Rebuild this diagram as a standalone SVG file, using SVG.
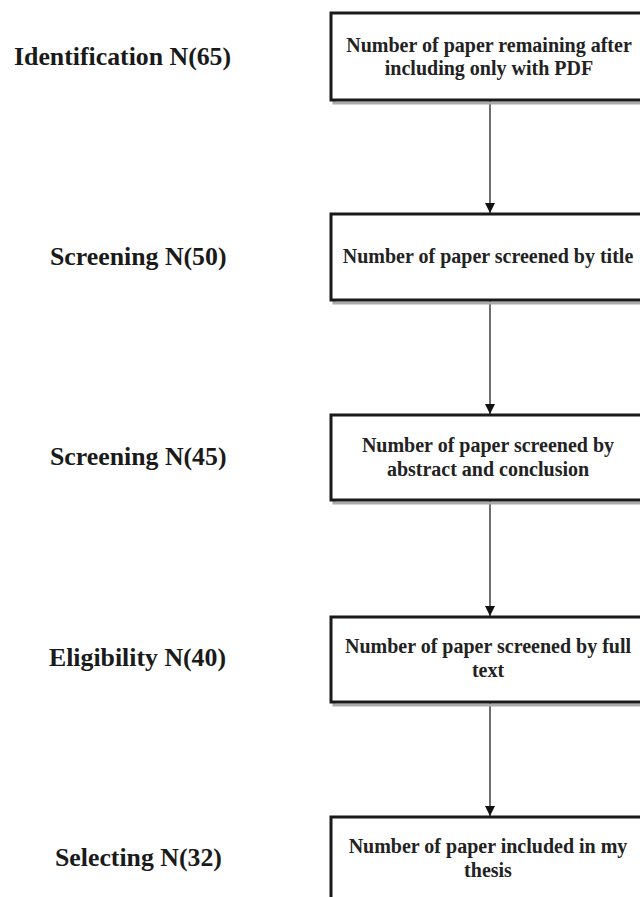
<svg xmlns="http://www.w3.org/2000/svg" width="640" height="897" viewBox="0 0 640 897">
<style>
.lbl{font-family:"Liberation Serif","Times New Roman",serif;font-weight:bold;font-size:25.8px;fill:#1a1a1a}
.bt{font-family:"Liberation Serif","Times New Roman",serif;font-weight:bold;font-size:20px;fill:#222;text-anchor:middle}
.box{fill:#fff;stroke:#1a1a1a;stroke-width:3}
.sh{fill:none;stroke:#aaa;stroke-width:3}
.con{stroke:#222;stroke-width:1.3;fill:none;marker-end:url(#ah)}
</style>
<defs>
<marker id="ah" markerWidth="12" markerHeight="12" refX="10" refY="5" orient="auto" markerUnits="userSpaceOnUse">
<path d="M0,0 L10,5 L0,10 Z" fill="#111"/>
</marker>
</defs>
<rect width="640" height="897" fill="#fff"/>
<g id="labels">
<text class="lbl" x="14" y="65">Identification N(65)</text>
<text class="lbl" x="50" y="265">Screening N(50)</text>
<text class="lbl" x="50" y="465">Screening N(45)</text>
<text class="lbl" x="49" y="666">Eligibility N(40)</text>
<text class="lbl" x="55" y="866">Selecting N(32)</text>
</g>
<g id="connectors">
<line class="con" x1="490" y1="101" x2="490" y2="213"/>
<line class="con" x1="490" y1="301" x2="490" y2="414"/>
<line class="con" x1="490" y1="501" x2="490" y2="616"/>
<line class="con" x1="490" y1="703" x2="490" y2="816"/>
</g>
<g id="n1">
<rect class="sh" x="334" y="16" width="320" height="87"/>
<rect class="box" x="331" y="13" width="320" height="87"/>
<text class="bt" x="489" y="52">Number of paper remaining after</text>
<text class="bt" x="489" y="75">including only with PDF</text>
</g>
<g id="n2">
<rect class="sh" x="334" y="217" width="320" height="86"/>
<rect class="box" x="331" y="214" width="320" height="86"/>
<text class="bt" x="488" y="263">Number of paper screened by title</text>
</g>
<g id="n3">
<rect class="sh" x="334" y="418" width="320" height="85"/>
<rect class="box" x="331" y="415" width="320" height="85"/>
<text class="bt" x="488" y="452">Number of paper screened by</text>
<text class="bt" x="488" y="476">abstract and conclusion</text>
</g>
<g id="n4">
<rect class="sh" x="334" y="620" width="320" height="85"/>
<rect class="box" x="331" y="617" width="320" height="85"/>
<text class="bt" x="488" y="653">Number of paper screened by full</text>
<text class="bt" x="488" y="677">text</text>
</g>
<g id="n5">
<rect class="sh" x="334" y="820" width="320" height="100"/>
<rect class="box" x="331" y="817" width="320" height="100"/>
<text class="bt" x="488" y="853">Number of paper included in my</text>
<text class="bt" x="488" y="877">thesis</text>
</g>
</svg>
